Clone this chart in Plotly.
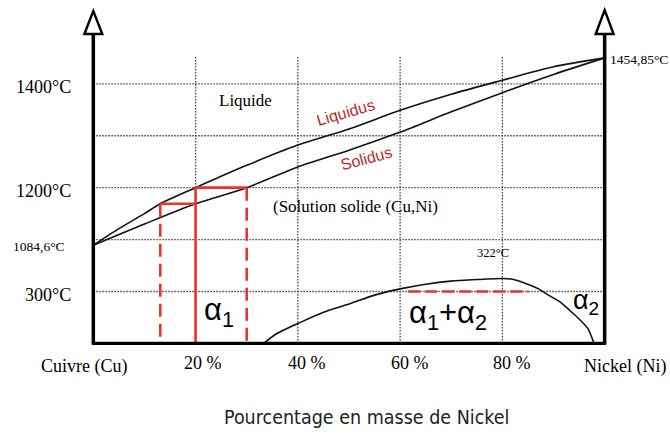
import plotly.graph_objects as go

# ---------------- data (schematic Cu-Ni phase diagram) ----------------
# x: % mass of nickel ; y: schematic level on the drawing grid (1 grid row = 1)
liq_pct = [0, 5, 10, 13.1, 20, 30, 40, 50, 60, 70, 80, 90, 100]
liq_lvl = [1.89, 2.21, 2.50, 2.69, 3.0, 3.43, 3.82, 4.13, 4.49, 4.80, 5.07, 5.33, 5.5]

sol_pct = [0, 10, 20, 30, 40, 50, 60, 70, 80, 90, 100]
sol_lvl = [1.89, 2.30, 2.69, 3.0, 3.40, 3.72, 4.07, 4.46, 4.83, 5.18, 5.5]

gap_pct = [33.3, 35.9, 40.5, 45, 50.3, 55, 60.5, 65, 69.9, 75, 80.2, 82.2, 84.4, 86.9, 89, 91.4, 93, 94.7, 96.7, 97.7, 97.9]
gap_lvl = [0.0, 0.19, 0.405, 0.60, 0.77, 0.93, 1.06, 1.14, 1.20, 1.23, 1.25, 1.23, 1.16, 1.06, 0.93, 0.79, 0.65, 0.50, 0.29, 0.06, 0.0]

alloy_pct = 20
liq_comp_pct = 13.1
sol_comp_pct = 30
level_1200 = 3.0
level_liq_start = 2.69
tie_pct = [61.6, 85.1]
tie_lvl = 1.0

grid_x = [20, 40, 60, 80]
grid_y = [1, 2, 3, 4, 5]

temp_lvls = [5, 3, 1]
temp_labels = ["1400°C", "1200°C", "300°C"]
comp_ticks = [21.45, 41.8, 61.9, 81.9]
comp_labels = ["20 %", "40 %", "60 %", "80 %"]

SERIF = "Liberation Serif, Times New Roman, serif"
SANS = "Liberation Sans, Arial, sans-serif"
RED = "#e8352b"
DARKRED = "#b92b26"

fig = go.Figure()

# phase boundaries
fig.add_trace(go.Scatter(x=liq_pct, y=liq_lvl, mode="lines",
                         line=dict(color="#111", width=1.6, shape="spline", smoothing=0.8)))
fig.add_trace(go.Scatter(x=sol_pct, y=sol_lvl, mode="lines",
                         line=dict(color="#111", width=1.6, shape="spline", smoothing=0.8)))
fig.add_trace(go.Scatter(x=gap_pct, y=gap_lvl, mode="lines",
                         line=dict(color="#111", width=1.6, shape="spline", smoothing=0.6)))

shapes = []
# dotted grid
for gx in grid_x:
    shapes.append(dict(type="line", xref="x", yref="y", x0=gx, x1=gx, y0=0, y1=5.52,
                       line=dict(color="#444", width=1.3, dash="1.5px,1.5px"), layer="below"))
for gy in grid_y:
    shapes.append(dict(type="line", xref="x", yref="y", x0=0, x1=100, y0=gy, y1=gy,
                       line=dict(color="#444", width=1.3, dash="1.5px,1.5px"), layer="below"))
fig.update_layout(shapes=shapes)

# red construction lines (lever rule)
fig.add_trace(go.Scatter(x=[alloy_pct, alloy_pct, sol_comp_pct], y=[0, level_1200, level_1200],
                         mode="lines", line=dict(color=RED, width=2.6)))
fig.add_trace(go.Scatter(x=[liq_comp_pct, alloy_pct], y=[level_liq_start, level_liq_start],
                         mode="lines", line=dict(color=RED, width=2.6)))
fig.add_trace(go.Scatter(x=[liq_comp_pct, liq_comp_pct], y=[level_liq_start, 0],
                         mode="lines", line=dict(color=RED, width=2.6, dash="13px,7px")))
fig.add_trace(go.Scatter(x=[sol_comp_pct, sol_comp_pct], y=[level_1200, 0],
                         mode="lines", line=dict(color=RED, width=2.6, dash="13px,7px")))
fig.add_trace(go.Scatter(x=tie_pct, y=[tie_lvl, tie_lvl],
                         mode="lines", line=dict(color=RED, width=2.6, dash="12px,5px")))

# axes frame with open arrow heads
axis_top = 5.96
fig.add_shape(type="line", xref="x", yref="y", x0=0, x1=0, y0=0, y1=axis_top, line=dict(color="black", width=3.5))
fig.add_shape(type="line", xref="x", yref="y", x0=100, x1=100, y0=0, y1=axis_top, line=dict(color="black", width=3.5))
fig.add_shape(type="line", xref="x", yref="y", x0=-0.3, x1=100.3, y0=0, y1=0, line=dict(color="black", width=3.2))
for ax_x, tip in [(0, 6.40), (100, 6.42)]:
    hw = 1.75
    fig.add_shape(type="path", xref="x", yref="y",
                  path=f"M {ax_x-hw},{axis_top} L {ax_x},{tip} L {ax_x+hw},{axis_top} Z",
                  fillcolor="white", line=dict(color="black", width=2.4))

ann = []
def txt(x, y, t, size, family=SERIF, color="black", xa="center", ya="middle", angle=0):
    ann.append(dict(x=x, y=y, xref="x", yref="y", text=t, showarrow=False,
                    font=dict(size=size, family=family, color=color),
                    xanchor=xa, yanchor=ya, textangle=angle))

for lv, lab in zip(temp_lvls, temp_labels):
    txt(-3.9, lv - 0.06, lab, 18, xa="right")
txt(-5.2, 1.86, "1084,6°C", 13.5, xa="right")
txt(100.6, 5.46, "1454,85°C", 13.5, xa="left")
txt(-1.8, -0.44, "Cuivre (Cu)", 18)
for cx, lab in zip(comp_ticks, comp_labels):
    txt(cx, -0.38, lab, 18)
txt(104.0, -0.44, "Nickel (Ni)", 18)
txt(53.5, -1.43, "Pourcentage en masse de Nickel", 19.5,
    family="Liberation Sans Narrow, DejaVu Sans Condensed, Arial Narrow, sans-serif", color="#222")

txt(29.7, 4.67, "Liquide", 17)
txt(49.4, 4.44, "Liquidus", 16, family=SANS, color=DARKRED, angle=-16)
txt(53.4, 3.57, "Solidus", 16, family=SANS, color=DARKRED, angle=-15)
txt(34.75, 2.63, "(Solution solide (Cu,Ni)", 17, xa="left")
txt(78.2, 1.74, "322°C", 12.5)
txt(21.3, 0.6, "α<sub>1</sub>", 31, family=SANS, xa="left")
txt(61.3, 0.55, "α<sub>1</sub>+α<sub>2</sub>", 31, family=SANS, xa="left")
txt(93.4, 0.8, "α<sub>2</sub>", 27, family=SANS, xa="left")

fig.update_layout(
    annotations=ann,
    width=670, height=434,
    margin=dict(l=0, r=0, t=0, b=0),
    paper_bgcolor="white", plot_bgcolor="white",
    showlegend=False,
    xaxis=dict(range=[-18.25, 112.78], visible=False, fixedrange=True),
    yaxis=dict(range=[-1.745, 6.615], visible=False, fixedrange=True),
)

fig.write_html("out.html", config={"displayModeBar": False},
               post_script="document.body.style.margin='0';")
